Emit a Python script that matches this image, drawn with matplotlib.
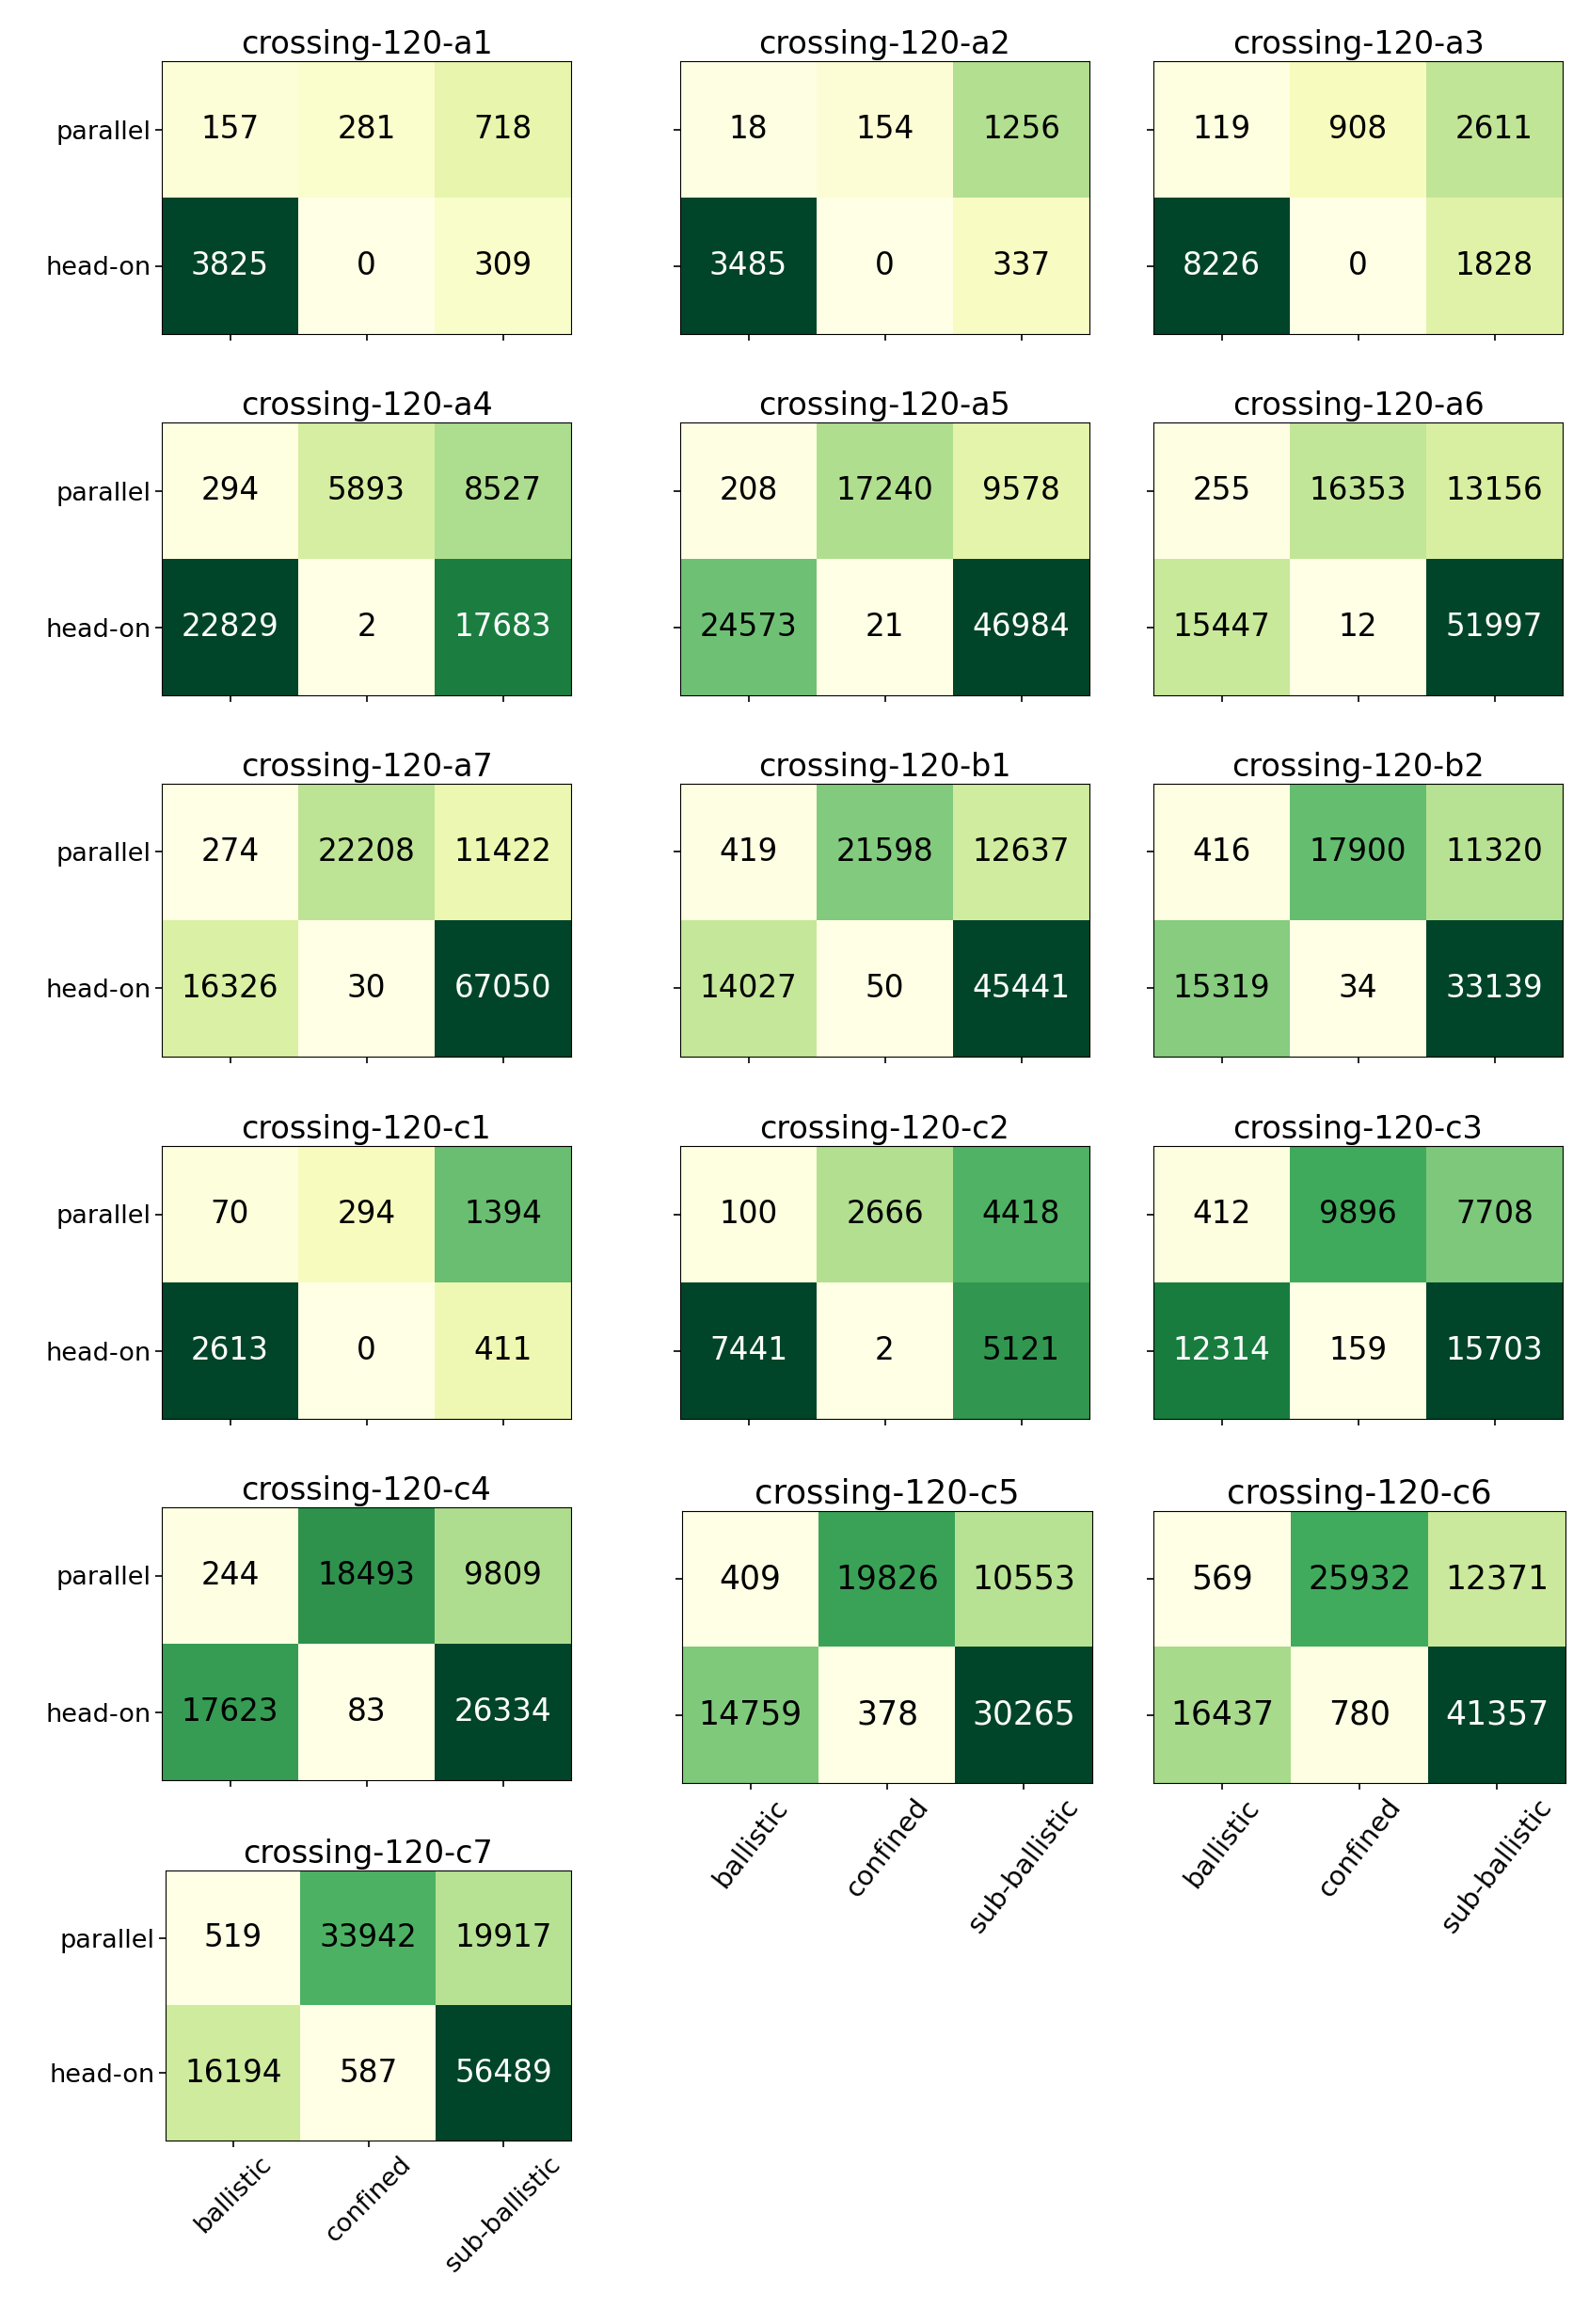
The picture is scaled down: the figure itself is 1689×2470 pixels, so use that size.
import numpy as np
import matplotlib
matplotlib.use('Agg')
import matplotlib.pyplot as plt

# category labels
y_labels = ['parallel', 'head-on']
x_labels = ['ballistic', 'confined', 'sub-ballistic']

# panel names, in reading order
names = ['crossing-120-a1', 'crossing-120-a2', 'crossing-120-a3',
         'crossing-120-a4', 'crossing-120-a5', 'crossing-120-a6',
         'crossing-120-a7', 'crossing-120-b1', 'crossing-120-b2',
         'crossing-120-c1', 'crossing-120-c2', 'crossing-120-c3',
         'crossing-120-c4', 'crossing-120-c5', 'crossing-120-c6',
         'crossing-120-c7']

# counts: row 0 = parallel, row 1 = head-on
a1 = [[157, 281, 718], [3825, 0, 309]]
a2 = [[18, 154, 1256], [3485, 0, 337]]
a3 = [[119, 908, 2611], [8226, 0, 1828]]
a4 = [[294, 5893, 8527], [22829, 2, 17683]]
a5 = [[208, 17240, 9578], [24573, 21, 46984]]
a6 = [[255, 16353, 13156], [15447, 12, 51997]]
a7 = [[274, 22208, 11422], [16326, 30, 67050]]
b1 = [[419, 21598, 12637], [14027, 50, 45441]]
b2 = [[416, 17900, 11320], [15319, 34, 33139]]
c1 = [[70, 294, 1394], [2613, 0, 411]]
c2 = [[100, 2666, 4418], [7441, 2, 5121]]
c3 = [[412, 9896, 7708], [12314, 159, 15703]]
c4 = [[244, 18493, 9809], [17623, 83, 26334]]
c5 = [[409, 19826, 10553], [14759, 378, 30265]]
c6 = [[569, 25932, 12371], [16437, 780, 41357]]
c7 = [[519, 33942, 19917], [16194, 587, 56489]]

matrices = [a1, a2, a3, a4, a5, a6, a7, b1, b2, c1, c2, c3, c4, c5, c6, c7]

W, H = 1689, 2470
fig = plt.figure(figsize=(W / 100, H / 100), dpi=100)

# axes boxes in pixels (left, top, width, height)
col_left = [172, 723, 1226]
row_top = [65, 449, 833, 1218, 1602]
boxes = []
for r in range(5):
  for c in range(3):
    boxes.append([col_left[c], row_top[r], 435, 290])
boxes[13] = [725, 1606, 436, 289]   # c5
boxes[14] = [1226, 1606, 438, 289]  # c6
boxes.append([176, 1988, 431, 287])  # c7


def draw_panel(ax, mat, title, show_y, show_x, scale=1.0, rot=45):
  mat = np.asarray(mat)
  ax.imshow(mat, cmap='YlGn', aspect='auto', interpolation='nearest')
  thresh = mat.max() * 0.75
  for i in range(mat.shape[0]):
    for j in range(mat.shape[1]):
      color = 'white' if mat[i, j] > thresh else 'black'
      ax.text(j, i, str(mat[i, j]), ha='center', va='center',
              color=color, fontsize=23.5 * scale)
  ax.set_title(title, fontsize=24 * scale)
  ax.set_yticks(range(len(y_labels)))
  ax.set_xticks(range(len(x_labels)))
  if show_y:
    ax.set_yticklabels(y_labels, fontsize=19.5)
  else:
    ax.set_yticklabels([])
  if show_x:
    ax.set_xticklabels(x_labels, fontsize=19.5 * scale, rotation=rot)
  else:
    ax.set_xticklabels([])
  ax.tick_params(length=5, width=1.2)


for k in range(len(matrices)):
  l, t, w, h = boxes[k]
  ax = fig.add_axes([l / W, 1 - (t + h) / H, w / W, h / H])
  show_y = (k % 3 == 0)
  show_x = k >= 13
  # c5 and c6 come out a little larger in the original
  if k in (13, 14):
    draw_panel(ax, matrices[k], names[k], show_y, show_x, scale=1.06, rot=52)
  else:
    draw_panel(ax, matrices[k], names[k], show_y, show_x)

plt.savefig('out.png', dpi=100)
